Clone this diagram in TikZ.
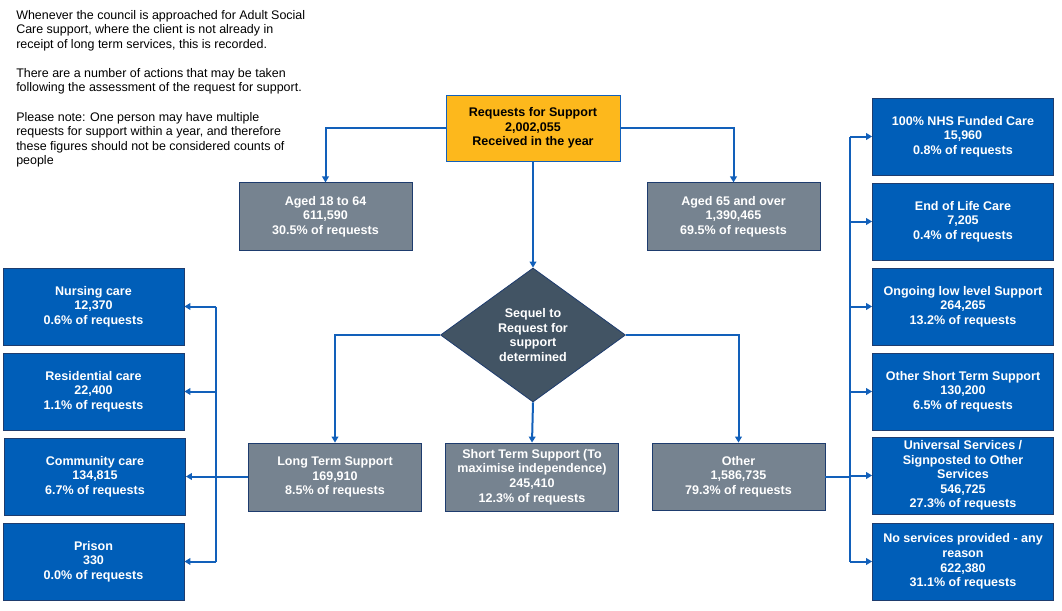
\documentclass[tikz,border=0pt]{standalone}
\usepackage{fontspec}
\setmainfont{Liberation Sans}
\usetikzlibrary{arrows.meta,positioning,shapes.geometric}
\definecolor{reqorange}{RGB}{253,184,28}
\definecolor{slategray}{RGB}{118,131,144}
\definecolor{carblue}{RGB}{0,94,184}
\definecolor{decidegray}{RGB}{66,84,100}
\definecolor{linkblue}{RGB}{18,96,186}
\definecolor{edgenavy}{RGB}{30,60,110}

\begin{document}
\begin{tikzpicture}[x=0.75pt, y=-0.75pt,
  stage/.style={draw=edgenavy, line width=0.6pt, align=center, text=white,
    font=\bfseries\fontsize{9.4}{10.9}\selectfont, inner sep=1pt},
  greybox/.style={stage, fill=slategray, minimum width=129.75pt, minimum height=50.5pt},
  outcome/.style={stage, fill=carblue, minimum width=135.75pt, minimum height=57.75pt},
  bus/.style={draw=linkblue, line width=1.5pt},
  link/.style={bus, -{Triangle[length=4.5pt, width=5pt]}}
]
\useasboundingbox (0,0) rectangle (1062,610);

% note at the top left
\node[anchor=north west, align=left, inner sep=0pt, font=\fontsize{9.35}{10.9}\selectfont] (note) at (16,10)
  {Whenever the council is approached for Adult Social\\
   Care support, where the client is not already in\\
   receipt of long term services, this is recorded.\\[10.9pt]
   There are a number of actions that may be taken\\
   following the assessment of the request for support.\\[10.9pt]
   Please note: One person may have multiple\\
   requests for support within a year, and therefore\\
   these figures should not be considered counts of\\
   people};

% top of the tree
\node[stage, fill=reqorange, text=black, draw=linkblue, minimum width=130.5pt, minimum height=49.5pt] (req) at (533,128)
  {Requests for Support\\ 2,002,055\\ Received in the year};
\node[greybox] (young) at (325.5,216.5) {Aged 18 to 64\\ 611,590\\ 30.5\% of requests};
\node[greybox] (old) at (733.5,216.5) {Aged 65 and over\\ 1,390,465\\ 69.5\% of requests};

\node[diamond, fill=decidegray, draw=edgenavy, line width=0.6pt, text=white, align=center, inner sep=0pt,
  minimum width=138.75pt, minimum height=100.5pt, font=\bfseries\fontsize{9.4}{10.9}\selectfont] (sequel) at (533,335)
  {Sequel to\\ Request for\\ support\\ determined};

\node[greybox, minimum height=51pt] (longterm) at (335,477)
  {Long Term Support\\ 169,910\\ 8.5\% of requests};
\node[greybox, minimum height=51pt] (shortterm) at (532,477)
  {Short Term Support (To\\ maximise independence)\\ 245,410\\ 12.3\% of requests};
\node[greybox, minimum height=50.25pt] (other) at (738.5,476.5)
  {Other\\ 1,586,735\\ 79.3\% of requests};

% long term outcomes
\node[outcome] (nursing) at (93.5,306.5) {Nursing care\\ 12,370\\ 0.6\% of requests};
\node[outcome] (residential) at (93.5,391.5) {Residential care\\ 22,400\\ 1.1\% of requests};
\node[outcome] (community) at (95,476.5) {Community care\\ 134,815\\ 6.7\% of requests};
\node[outcome] (prison) at (93.5,561.5) {Prison\\ 330\\ 0.0\% of requests};

% other outcomes
\node[outcome] (nhs) at (963,136.5) {100\% NHS Funded Care\\ 15,960\\ 0.8\% of requests};
\node[outcome] (endlife) at (963,221.5) {End of Life Care\\ 7,205\\ 0.4\% of requests};
\node[outcome] (ongoing) at (963,306.5) {Ongoing low level Support\\ 264,265\\ 13.2\% of requests};
\node[outcome] (othershort) at (963,391.5) {Other Short Term Support\\ 130,200\\ 6.5\% of requests};
\node[outcome] (universal) at (963,475.5) {Universal Services /\\ Signposted to Other\\ Services\\ 546,725\\ 27.3\% of requests};
\node[outcome] (nosvc) at (963,561.5) {No services provided - any\\ reason\\ 622,380\\ 31.1\% of requests};

% connectors
\draw[link] (req.west) -| (young.north);
\draw[link] (req.east) -| (old.north);
\draw[link] (req.south) -- (sequel.north);
\draw[link] (sequel.west) -| (longterm.north);
\draw[link] (sequel.south) -- (shortterm.north);
\draw[link] (sequel.east) -| (other.north);

\coordinate (lbus) at (216,477);
\draw[bus] (longterm.west) -- (lbus);
\draw[bus] (lbus |- nursing.east) -- (lbus |- prison.east);
\foreach \n in {nursing,residential,community,prison}
  \draw[link] (lbus |- \n.east) -- (\n.east);

\coordinate (rbus) at (850,476.5);
\draw[bus] (other.east) -- (rbus);
\draw[bus] (rbus |- nhs.west) -- (rbus |- nosvc.west);
\foreach \n in {nhs,endlife,ongoing,othershort,universal,nosvc}
  \draw[link] (rbus |- \n.west) -- (\n.west);
\end{tikzpicture}
\end{document}
